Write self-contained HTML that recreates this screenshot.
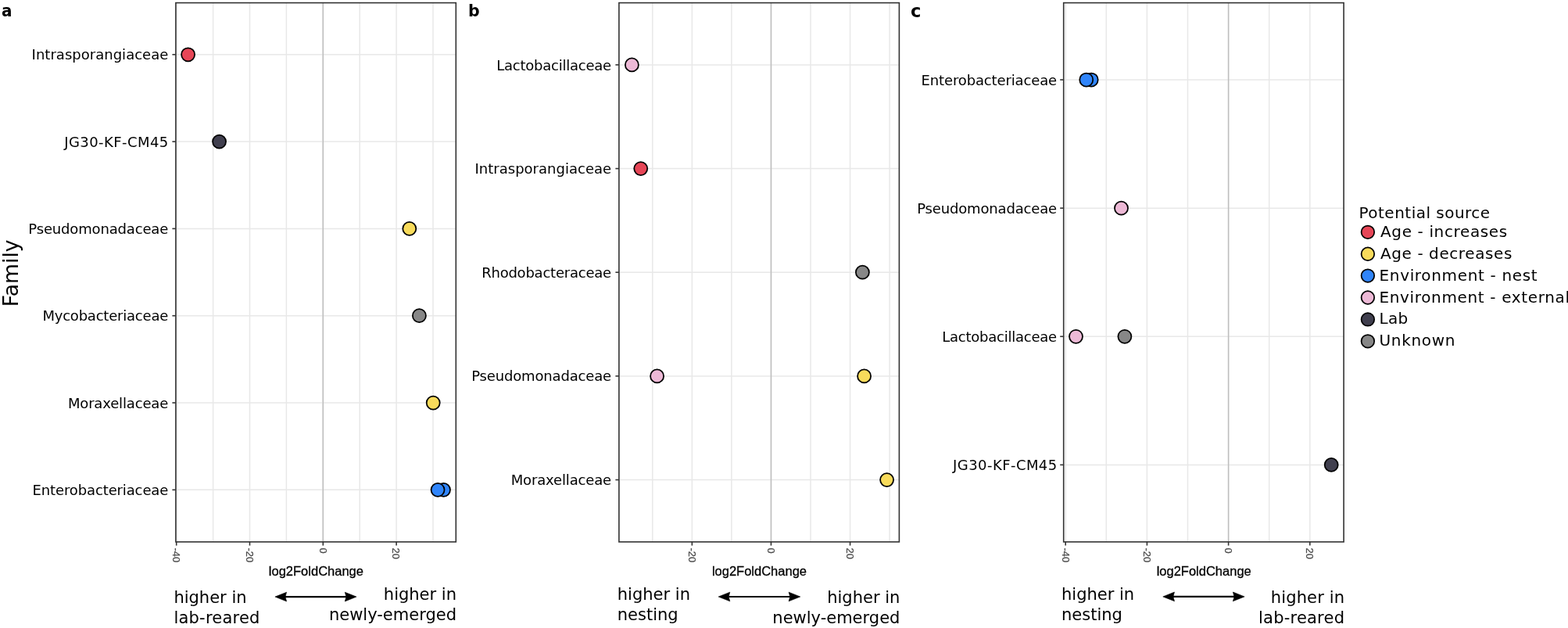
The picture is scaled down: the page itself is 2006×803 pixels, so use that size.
<!DOCTYPE html><html><head><meta charset="utf-8"><style>html,body{margin:0;padding:0;background:#fff;overflow:hidden}svg{display:block}.lab{font-family:"DejaVu Sans","Liberation Sans",sans-serif;fill:#000}.hel{font-family:"Liberation Sans",Arial,sans-serif}</style></head><body>
<svg width="2006" height="803" viewBox="0 0 2006 803">
<rect width="2006" height="803" fill="#fff"/>
<g stroke="#E8E8E8" stroke-width="1.5" fill="none">
<line x1="272.6" y1="3.6" x2="272.6" y2="692.9"/>
<line x1="366.4" y1="3.6" x2="366.4" y2="692.9"/>
<line x1="460.2" y1="3.6" x2="460.2" y2="692.9"/>
<line x1="554" y1="3.6" x2="554" y2="692.9"/>
<line x1="225.7" y1="3.6" x2="225.7" y2="692.9"/>
<line x1="319.5" y1="3.6" x2="319.5" y2="692.9"/>
<line x1="413.3" y1="3.6" x2="413.3" y2="692.9"/>
<line x1="507.1" y1="3.6" x2="507.1" y2="692.9"/>
<line x1="224.9" y1="69.75" x2="583.3" y2="69.75"/>
<line x1="224.9" y1="181.07" x2="583.3" y2="181.07"/>
<line x1="224.9" y1="292.39" x2="583.3" y2="292.39"/>
<line x1="224.9" y1="403.71" x2="583.3" y2="403.71"/>
<line x1="224.9" y1="515.03" x2="583.3" y2="515.03"/>
<line x1="224.9" y1="626.35" x2="583.3" y2="626.35"/>
</g>
<line x1="413.3" y1="3.6" x2="413.3" y2="692.9" stroke="#BEBEBE" stroke-width="1.5"/>
<circle cx="240.6" cy="69.75" r="8.5" fill="#E64657" stroke="#000" stroke-width="1.75"/>
<circle cx="280.55" cy="181.07" r="8.5" fill="#403F4E" stroke="#000" stroke-width="1.75"/>
<circle cx="523.8" cy="292.39" r="8.5" fill="#F8DB5B" stroke="#000" stroke-width="1.75"/>
<circle cx="536.4" cy="403.71" r="8.5" fill="#878787" stroke="#000" stroke-width="1.75"/>
<circle cx="554.2" cy="515.03" r="8.5" fill="#F8DB5B" stroke="#000" stroke-width="1.75"/>
<circle cx="567.5" cy="626.35" r="8.5" fill="#3085FB" stroke="#000" stroke-width="1.75"/>
<circle cx="560.05" cy="626.35" r="8.5" fill="#3085FB" stroke="#000" stroke-width="1.75"/>
<rect x="224.9" y="3.6" width="358.4" height="689.3" fill="none" stroke="#333" stroke-width="1.6"/>
<g stroke="#333" stroke-width="1.6">
<line x1="220.4" y1="69.75" x2="224.9" y2="69.75"/>
<line x1="220.4" y1="181.07" x2="224.9" y2="181.07"/>
<line x1="220.4" y1="292.39" x2="224.9" y2="292.39"/>
<line x1="220.4" y1="403.71" x2="224.9" y2="403.71"/>
<line x1="220.4" y1="515.03" x2="224.9" y2="515.03"/>
<line x1="220.4" y1="626.35" x2="224.9" y2="626.35"/>
<line x1="225.7" y1="692.9" x2="225.7" y2="697.6"/>
<line x1="319.5" y1="692.9" x2="319.5" y2="697.6"/>
<line x1="413.3" y1="692.9" x2="413.3" y2="697.6"/>
<line x1="507.1" y1="692.9" x2="507.1" y2="697.6"/>
</g>
<text class="lab" x="215.3" y="76.35" font-size="18" text-anchor="end" textLength="174.7" lengthAdjust="spacing">Intrasporangiaceae</text>
<text class="lab" x="215.3" y="187.67" font-size="18" text-anchor="end" textLength="133.1" lengthAdjust="spacing">JG30-KF-CM45</text>
<text class="lab" x="215.3" y="298.99" font-size="18" text-anchor="end" textLength="179.0" lengthAdjust="spacing">Pseudomonadaceae</text>
<text class="lab" x="215.3" y="410.31" font-size="18" text-anchor="end" textLength="160.9" lengthAdjust="spacing">Mycobacteriaceae</text>
<text class="lab" x="215.3" y="521.63" font-size="18" text-anchor="end" textLength="128.4" lengthAdjust="spacing">Moraxellaceae</text>
<text class="lab" x="215.3" y="632.95" font-size="18" text-anchor="end" textLength="173.7" lengthAdjust="spacing">Enterobacteriaceae</text>
<text class="hel" fill="#4D4D4D" stroke="#4D4D4D" stroke-width="0.25" font-size="13" transform="translate(221.05,700.5) rotate(90)">-40</text>
<text class="hel" fill="#4D4D4D" stroke="#4D4D4D" stroke-width="0.25" font-size="13" transform="translate(314.85,700.5) rotate(90)">-20</text>
<text class="hel" fill="#4D4D4D" stroke="#4D4D4D" stroke-width="0.25" font-size="13" transform="translate(408.65,700.5) rotate(90)">0</text>
<text class="hel" fill="#4D4D4D" stroke="#4D4D4D" stroke-width="0.25" font-size="13" transform="translate(502.45,700.5) rotate(90)">20</text>
<text class="hel" fill="#000" stroke="#000" stroke-width="0.3" font-size="16.5" x="404.4" y="735.7" text-anchor="middle">log2FoldChange</text>
<text class="lab" font-weight="bold" font-size="20" transform="translate(2,21.2) scale(1.0,1.1)">a</text>
<g stroke="#E8E8E8" stroke-width="1.5" fill="none">
<line x1="834.8" y1="3.6" x2="834.8" y2="692.9"/>
<line x1="935.9" y1="3.6" x2="935.9" y2="692.9"/>
<line x1="1037" y1="3.6" x2="1037" y2="692.9"/>
<line x1="1138.1" y1="3.6" x2="1138.1" y2="692.9"/>
<line x1="885.35" y1="3.6" x2="885.35" y2="692.9"/>
<line x1="986.45" y1="3.6" x2="986.45" y2="692.9"/>
<line x1="1087.55" y1="3.6" x2="1087.55" y2="692.9"/>
<line x1="791.9" y1="82.9" x2="1150.4" y2="82.9"/>
<line x1="791.9" y1="215.56" x2="1150.4" y2="215.56"/>
<line x1="791.9" y1="348.22" x2="1150.4" y2="348.22"/>
<line x1="791.9" y1="480.88" x2="1150.4" y2="480.88"/>
<line x1="791.9" y1="613.54" x2="1150.4" y2="613.54"/>
</g>
<line x1="986.45" y1="3.6" x2="986.45" y2="692.9" stroke="#BEBEBE" stroke-width="1.5"/>
<circle cx="808.4" cy="82.9" r="8.5" fill="#EDB9D6" stroke="#000" stroke-width="1.75"/>
<circle cx="819.75" cy="215.56" r="8.5" fill="#E64657" stroke="#000" stroke-width="1.75"/>
<circle cx="1103.4" cy="348.22" r="8.5" fill="#878787" stroke="#000" stroke-width="1.75"/>
<circle cx="840.6" cy="480.88" r="8.5" fill="#EDB9D6" stroke="#000" stroke-width="1.75"/>
<circle cx="1105.6" cy="480.88" r="8.5" fill="#F8DB5B" stroke="#000" stroke-width="1.75"/>
<circle cx="1134.6" cy="613.54" r="8.5" fill="#F8DB5B" stroke="#000" stroke-width="1.75"/>
<rect x="791.9" y="3.6" width="358.5" height="689.3" fill="none" stroke="#333" stroke-width="1.6"/>
<g stroke="#333" stroke-width="1.6">
<line x1="787.4" y1="82.9" x2="791.9" y2="82.9"/>
<line x1="787.4" y1="215.56" x2="791.9" y2="215.56"/>
<line x1="787.4" y1="348.22" x2="791.9" y2="348.22"/>
<line x1="787.4" y1="480.88" x2="791.9" y2="480.88"/>
<line x1="787.4" y1="613.54" x2="791.9" y2="613.54"/>
<line x1="885.35" y1="692.9" x2="885.35" y2="697.6"/>
<line x1="986.45" y1="692.9" x2="986.45" y2="697.6"/>
<line x1="1087.55" y1="692.9" x2="1087.55" y2="697.6"/>
</g>
<text class="lab" x="782.15" y="89.5" font-size="18" text-anchor="end" textLength="146.9" lengthAdjust="spacing">Lactobacillaceae</text>
<text class="lab" x="782.15" y="222.16" font-size="18" text-anchor="end" textLength="174.7" lengthAdjust="spacing">Intrasporangiaceae</text>
<text class="lab" x="782.15" y="354.82" font-size="18" text-anchor="end" textLength="166.0" lengthAdjust="spacing">Rhodobacteraceae</text>
<text class="lab" x="782.15" y="487.48" font-size="18" text-anchor="end" textLength="179.0" lengthAdjust="spacing">Pseudomonadaceae</text>
<text class="lab" x="782.15" y="620.14" font-size="18" text-anchor="end" textLength="128.4" lengthAdjust="spacing">Moraxellaceae</text>
<text class="hel" fill="#4D4D4D" stroke="#4D4D4D" stroke-width="0.25" font-size="13" transform="translate(880.7,700.5) rotate(90)">-20</text>
<text class="hel" fill="#4D4D4D" stroke="#4D4D4D" stroke-width="0.25" font-size="13" transform="translate(981.8,700.5) rotate(90)">0</text>
<text class="hel" fill="#4D4D4D" stroke="#4D4D4D" stroke-width="0.25" font-size="13" transform="translate(1082.9,700.5) rotate(90)">20</text>
<text class="hel" fill="#000" stroke="#000" stroke-width="0.3" font-size="16.5" x="971.45" y="735.7" text-anchor="middle">log2FoldChange</text>
<text class="lab" font-weight="bold" font-size="20.5" transform="translate(599,20.9) scale(1.0,1.04)">b</text>
<g stroke="#E8E8E8" stroke-width="1.5" fill="none">
<line x1="1415.3" y1="3.6" x2="1415.3" y2="692.9"/>
<line x1="1519.5" y1="3.6" x2="1519.5" y2="692.9"/>
<line x1="1623.7" y1="3.6" x2="1623.7" y2="692.9"/>
<line x1="1363.2" y1="3.6" x2="1363.2" y2="692.9"/>
<line x1="1467.4" y1="3.6" x2="1467.4" y2="692.9"/>
<line x1="1571.6" y1="3.6" x2="1571.6" y2="692.9"/>
<line x1="1675.8" y1="3.6" x2="1675.8" y2="692.9"/>
<line x1="1360.7" y1="102" x2="1719.1" y2="102"/>
<line x1="1360.7" y1="266.13" x2="1719.1" y2="266.13"/>
<line x1="1360.7" y1="430.26" x2="1719.1" y2="430.26"/>
<line x1="1360.7" y1="594.39" x2="1719.1" y2="594.39"/>
</g>
<line x1="1571.6" y1="3.6" x2="1571.6" y2="692.9" stroke="#BEBEBE" stroke-width="1.5"/>
<circle cx="1396.2" cy="102" r="8.5" fill="#3085FB" stroke="#000" stroke-width="1.75"/>
<circle cx="1389.75" cy="102" r="8.5" fill="#3085FB" stroke="#000" stroke-width="1.75"/>
<circle cx="1434.5" cy="266.13" r="8.5" fill="#EDB9D6" stroke="#000" stroke-width="1.75"/>
<circle cx="1376.5" cy="430.26" r="8.5" fill="#EDB9D6" stroke="#000" stroke-width="1.75"/>
<circle cx="1438.9" cy="430.26" r="8.5" fill="#878787" stroke="#000" stroke-width="1.75"/>
<circle cx="1703.2" cy="594.39" r="8.5" fill="#403F4E" stroke="#000" stroke-width="1.75"/>
<rect x="1360.7" y="3.6" width="358.4" height="689.3" fill="none" stroke="#333" stroke-width="1.6"/>
<g stroke="#333" stroke-width="1.6">
<line x1="1356.2" y1="102" x2="1360.7" y2="102"/>
<line x1="1356.2" y1="266.13" x2="1360.7" y2="266.13"/>
<line x1="1356.2" y1="430.26" x2="1360.7" y2="430.26"/>
<line x1="1356.2" y1="594.39" x2="1360.7" y2="594.39"/>
<line x1="1363.2" y1="692.9" x2="1363.2" y2="697.6"/>
<line x1="1467.4" y1="692.9" x2="1467.4" y2="697.6"/>
<line x1="1571.6" y1="692.9" x2="1571.6" y2="697.6"/>
<line x1="1675.8" y1="692.9" x2="1675.8" y2="697.6"/>
</g>
<text class="lab" x="1352.2" y="108.6" font-size="18" text-anchor="end" textLength="173.7" lengthAdjust="spacing">Enterobacteriaceae</text>
<text class="lab" x="1352.2" y="272.73" font-size="18" text-anchor="end" textLength="179.0" lengthAdjust="spacing">Pseudomonadaceae</text>
<text class="lab" x="1352.2" y="436.86" font-size="18" text-anchor="end" textLength="146.9" lengthAdjust="spacing">Lactobacillaceae</text>
<text class="lab" x="1352.2" y="600.99" font-size="18" text-anchor="end" textLength="133.1" lengthAdjust="spacing">JG30-KF-CM45</text>
<text class="hel" fill="#4D4D4D" stroke="#4D4D4D" stroke-width="0.25" font-size="13" transform="translate(1358.55,700.5) rotate(90)">-40</text>
<text class="hel" fill="#4D4D4D" stroke="#4D4D4D" stroke-width="0.25" font-size="13" transform="translate(1462.75,700.5) rotate(90)">-20</text>
<text class="hel" fill="#4D4D4D" stroke="#4D4D4D" stroke-width="0.25" font-size="13" transform="translate(1566.95,700.5) rotate(90)">0</text>
<text class="hel" fill="#4D4D4D" stroke="#4D4D4D" stroke-width="0.25" font-size="13" transform="translate(1671.15,700.5) rotate(90)">20</text>
<text class="hel" fill="#000" stroke="#000" stroke-width="0.3" font-size="16.5" x="1540.2" y="735.7" text-anchor="middle">log2FoldChange</text>
<text class="lab" font-weight="bold" font-size="21.5" transform="translate(1165.1,21.8) scale(1.05,1.04)">c</text>
<text class="lab" font-size="26.7" transform="translate(22.8,349.3) rotate(-90)" text-anchor="middle">Family</text>
<text class="lab" font-size="21" text-anchor="start" x="222.4" y="771">higher in</text>
<text class="lab" font-size="21" text-anchor="start" x="222.4" y="796.9" textLength="110" lengthAdjust="spacing">lab-reared</text>
<text class="lab" font-size="21" text-anchor="end" x="584.0" y="766.7">higher in</text>
<text class="lab" font-size="21" text-anchor="end" x="584.0" y="792.9">newly-emerged</text>
<text class="lab" font-size="21" text-anchor="start" x="789.8" y="766.7">higher in</text>
<text class="lab" font-size="21" text-anchor="start" x="789.8" y="792.9">nesting</text>
<text class="lab" font-size="21" text-anchor="end" x="1151.4" y="770.8">higher in</text>
<text class="lab" font-size="21" text-anchor="end" x="1151.4" y="796.8">newly-emerged</text>
<text class="lab" font-size="21" text-anchor="start" x="1358.0" y="767">higher in</text>
<text class="lab" font-size="21" text-anchor="start" x="1358.0" y="793">nesting</text>
<text class="lab" font-size="21" text-anchor="end" x="1720.0" y="770.8" textLength="94.17" lengthAdjust="spacing">higher in</text>
<text class="lab" font-size="21" text-anchor="end" x="1720.0" y="796.8" textLength="110" lengthAdjust="spacing">lab-reared</text>
<line x1="365" y1="763.1" x2="442.9" y2="763.1" stroke="#000" stroke-width="2.1"/>
<path d="M351.9,763.1 L366.6,757.25 L365,763.1 L366.6,768.95 Z" fill="#000" stroke="#000" stroke-width="0.6" stroke-linejoin="round"/>
<path d="M456,763.1 L441.3,757.25 L442.9,763.1 L441.3,768.95 Z" fill="#000" stroke="#000" stroke-width="0.6" stroke-linejoin="round"/>
<line x1="932.2" y1="763.0" x2="1010.7" y2="763.0" stroke="#000" stroke-width="2.1"/>
<path d="M919.1,763.0 L933.8,757.15 L932.2,763.0 L933.8,768.85 Z" fill="#000" stroke="#000" stroke-width="0.6" stroke-linejoin="round"/>
<path d="M1023.8,763.0 L1009.1,757.15 L1010.7,763.0 L1009.1,768.85 Z" fill="#000" stroke="#000" stroke-width="0.6" stroke-linejoin="round"/>
<line x1="1500.9" y1="762.9" x2="1579" y2="762.9" stroke="#000" stroke-width="2.1"/>
<path d="M1487.8,762.9 L1502.5,757.05 L1500.9,762.9 L1502.5,768.75 Z" fill="#000" stroke="#000" stroke-width="0.6" stroke-linejoin="round"/>
<path d="M1592.1,762.9 L1577.4,757.05 L1579,762.9 L1577.4,768.75 Z" fill="#000" stroke="#000" stroke-width="0.6" stroke-linejoin="round"/>
<text class="lab" font-size="20" x="1738.5" y="279.1" textLength="167.6" lengthAdjust="spacing">Potential source</text>
<circle cx="1749.9" cy="296.8" r="8.3" fill="#E64657" stroke="#000" stroke-width="1.75"/>
<text class="lab" font-size="20" x="1766" y="302.8" textLength="162.2" lengthAdjust="spacing">Age - increases</text>
<circle cx="1749.9" cy="324.7" r="8.3" fill="#F8DB5B" stroke="#000" stroke-width="1.75"/>
<text class="lab" font-size="20" x="1766" y="330.7" textLength="168.3" lengthAdjust="spacing">Age - decreases</text>
<circle cx="1749.9" cy="352.6" r="8.3" fill="#3085FB" stroke="#000" stroke-width="1.75"/>
<text class="lab" font-size="20" x="1764.5" y="358.6" textLength="202.1" lengthAdjust="spacing">Environment - nest</text>
<circle cx="1749.9" cy="380.5" r="8.3" fill="#EDB9D6" stroke="#000" stroke-width="1.75"/>
<text class="lab" font-size="20" x="1764.5" y="386.5" textLength="243.5" lengthAdjust="spacing">Environment - external</text>
<circle cx="1749.9" cy="408.4" r="8.3" fill="#403F4E" stroke="#000" stroke-width="1.75"/>
<text class="lab" font-size="20" x="1764.5" y="414.4" textLength="36.6" lengthAdjust="spacing">Lab</text>
<circle cx="1749.9" cy="436.3" r="8.3" fill="#878787" stroke="#000" stroke-width="1.75"/>
<text class="lab" font-size="20" x="1764.5" y="442.3" textLength="96.9" lengthAdjust="spacing">Unknown</text>
</svg></body></html>
